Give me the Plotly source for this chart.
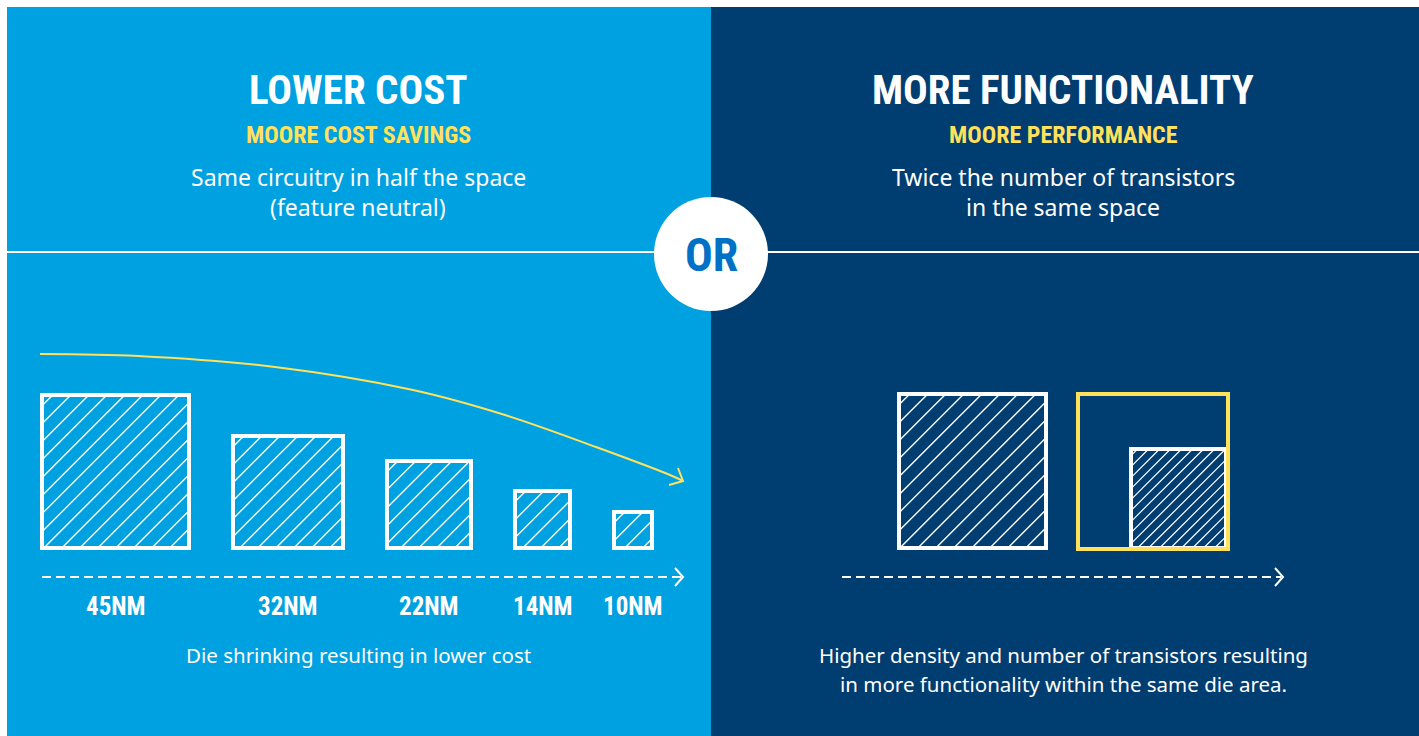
import numpy as np
import plotly.graph_objects as go

# ---------------------------------------------------------
# データ
# ---------------------------------------------------------
nodes = ["45NM", "32NM", "22NM", "14NM", "10NM"]
die_w = [147, 110, 84, 55, 38]
die_h = [153, 112, 87, 57, 36]

same_die_w = 147
same_die_h = 154
dense_die_w = 95
dense_die_h = 99
hatch_spacing = [18, 11]  # 旧ノード / 新ノード

curve_x = [40, 138, 275, 413, 505, 596, 670, 683]
curve_y = [354, 356, 367, 390, 415, 447, 475, 481]

left_title = ["LOWER COST", "MOORE COST SAVINGS", "Same circuitry in half the space", "(feature neutral)"]
right_title = ["MORE FUNCTIONALITY", "MOORE PERFORMANCE", "Twice the number of transistors", "in the same space"]
left_note = ["Die shrinking resulting in lower cost"]
right_note = ["Higher density and number of transistors resulting", "in more functionality within the same die area."]

LIGHT = "#00A1E0"
DARK = "#003D71"
YELLOW = "#FFE15B"
OR_BLUE = "#0071C5"
HEAD_FONT = "Roboto Condensed, Liberation Sans Narrow, sans-serif"
BODY_FONT = "Noto Sans, Open Sans, sans-serif"

W, H = 1419, 736
PAD = 7


def hatch(x0, y0, x1, y1, step):
    """矩形内の斜線（/ 方向）を線分リストとして返す。"""
    xs, ys = [], []
    for c in np.arange(x0 + y0 + step * 0.6, x1 + y1, step):
        xa = max(x0, c - y1)
        xb = min(x1, c - y0)
        if xb > xa:
            xs += [xa, xb, None]
            ys += [c - xa, c - xb, None]
    return xs, ys


fig = go.Figure()
shapes = []
annotations = []

# 背景パネル
shapes.append(dict(type="rect", x0=PAD, x1=711, y0=PAD, y1=H, fillcolor=LIGHT, line_width=0, layer="below"))
shapes.append(dict(type="rect", x0=711, x1=W, y0=PAD, y1=H, fillcolor=DARK, line_width=0, layer="below"))
shapes.append(dict(type="line", x0=PAD, x1=W, y0=252, y1=252, line=dict(color="white", width=2)))
shapes.append(dict(type="circle", x0=654, x1=768, y0=197, y1=311, fillcolor="white", line_width=0))

# 左側：ダイ縮小
base_y = 548
gap = 44
x_left = 42
for name, w, h in zip(nodes, die_w, die_h):
    hx, hy = hatch(x_left, base_y - h, x_left + w, base_y, hatch_spacing[0])
    fig.add_trace(go.Scatter(x=hx, y=hy, mode="lines", line=dict(color="white", width=1.4),
                             hoverinfo="skip", showlegend=False))
    shapes.append(dict(type="rect", x0=x_left, x1=x_left + w, y0=base_y - h, y1=base_y,
                       line=dict(color="white", width=4)))
    annotations.append(dict(x=x_left + w / 2, y=606, text=f"<b>{name}</b>", showarrow=False,
                            font=dict(family=HEAD_FONT, size=25, color="white")))
    x_left += w + gap

# 黄色のカーブ矢印
fig.add_trace(go.Scatter(x=curve_x, y=curve_y, mode="lines", line=dict(color=YELLOW, width=2, shape="spline"),
                         hoverinfo="skip", showlegend=False))
fig.add_trace(go.Scatter(x=[678, curve_x[-1], 669], y=[468, curve_y[-1], 485], mode="lines",
                         line=dict(color=YELLOW, width=2), hoverinfo="skip", showlegend=False))

# 破線矢印
for xa, xb in [(42, 683), (842, 1283)]:
    shapes.append(dict(type="line", x0=xa, x1=xb - 2, y0=577, y1=577,
                       line=dict(color="white", width=2, dash="9px,5px")))
    fig.add_trace(go.Scatter(x=[xb - 8, xb, xb - 8], y=[568, 577, 586], mode="lines",
                             line=dict(color="white", width=2), hoverinfo="skip", showlegend=False))

# 右側：同一ダイ面積で高密度
rx0 = 899
hx, hy = hatch(rx0, base_y - same_die_h, rx0 + same_die_w, base_y, hatch_spacing[0])
fig.add_trace(go.Scatter(x=hx, y=hy, mode="lines", line=dict(color="white", width=1.4),
                         hoverinfo="skip", showlegend=False))
shapes.append(dict(type="rect", x0=rx0, x1=rx0 + same_die_w, y0=base_y - same_die_h, y1=base_y,
                   line=dict(color="white", width=4)))

yx0 = 1078
yx1 = yx0 + same_die_w + 3
ix1 = yx1 - 2
ix0 = ix1 - dense_die_w
hx, hy = hatch(ix0, base_y - dense_die_h, ix1, base_y, hatch_spacing[1])
fig.add_trace(go.Scatter(x=hx, y=hy, mode="lines", line=dict(color="white", width=1.2),
                         hoverinfo="skip", showlegend=False))
shapes.append(dict(type="rect", x0=ix0, x1=ix1, y0=base_y - dense_die_h, y1=base_y,
                   line=dict(color="white", width=4)))
shapes.append(dict(type="rect", x0=yx0, x1=yx1, y0=base_y - same_die_h, y1=base_y + 1,
                   line=dict(color=YELLOW, width=4)))

# 見出しテキスト
for cx, texts in [(358, left_title), (1063, right_title)]:
    annotations.append(dict(x=cx, y=90, text=f"<b>{texts[0]}</b>", showarrow=False,
                            font=dict(family=HEAD_FONT, size=41, color="white")))
    annotations.append(dict(x=cx, y=135, text=f"<b>{texts[1]}</b>", showarrow=False,
                            font=dict(family=HEAD_FONT, size=24, color=YELLOW)))
    annotations.append(dict(x=cx, y=177, text=texts[2], showarrow=False,
                            font=dict(family=BODY_FONT, size=23, color="white")))
    annotations.append(dict(x=cx, y=207, text=texts[3], showarrow=False,
                            font=dict(family=BODY_FONT, size=23, color="white")))

annotations.append(dict(x=711, y=255, text="<b>OR</b>", showarrow=False,
                        font=dict(family=HEAD_FONT, size=46, color=OR_BLUE)))

for i, t in enumerate(left_note):
    annotations.append(dict(x=358, y=655 + 29 * i, text=t, showarrow=False,
                            font=dict(family=BODY_FONT, size=20.5, color="white")))
for i, t in enumerate(right_note):
    annotations.append(dict(x=1063, y=655 + 29 * i, text=t, showarrow=False,
                            font=dict(family=BODY_FONT, size=20.5, color="white")))

for a in annotations:
    a.update(xref="x", yref="y", xanchor="center", yanchor="middle")

fig.update_layout(
    width=W,
    height=H,
    margin=dict(l=0, r=0, t=0, b=0),
    paper_bgcolor="white",
    plot_bgcolor="white",
    shapes=shapes,
    annotations=annotations,
    showlegend=False,
    xaxis=dict(range=[0, W], visible=False, fixedrange=True),
    yaxis=dict(range=[H, 0], visible=False, fixedrange=True),
)

fig.write_html(
    "out.html",
    config={"displayModeBar": False},
    post_script="document.body.style.margin='0';document.body.style.overflow='hidden';",
)
